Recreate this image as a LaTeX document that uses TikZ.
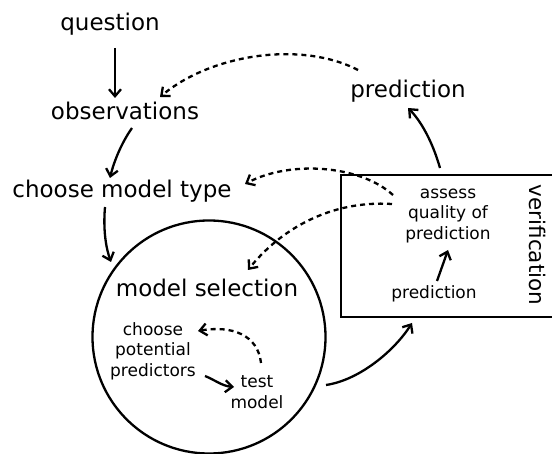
\documentclass[tikz,border=0pt]{standalone}
\usepackage{fontspec}
\setmainfont{DejaVu Sans}
\usetikzlibrary{arrows.meta}
\tikzset{
  big/.style={font=\fontsize{23}{26}\selectfont, inner sep=1pt},
  small/.style={font=\fontsize{17}{20.5}\selectfont, align=center, inner sep=1pt},
  conn/.style={line width=2.3pt, -{Straight Barb[length=7pt,width=12pt,line width=2.3pt]}},
  dconn/.style={conn, dash pattern=on 5pt off 4pt},
  frame/.style={draw, line width=2.3pt}
}
\begin{document}
\begin{tikzpicture}[x=1pt,y=-1pt]
\useasboundingbox (0,0) rectangle (552,454);
% shapes
\node[frame, circle, minimum size=233pt, inner sep=0pt] (circ) at (209,337) {};
\draw[line width=2.3pt] (341,175) -- (560,175) -- (560,317) -- (341,317) -- cycle;
% texts
\node[big] (question) at (110,24) {question};
\node[big] (obs) at (125,111) {observations};
\node[big] (cmt) at (122,191) {choose model type};
\node[big] (pred) at (408,91) {prediction};
\node[big] (ms) at (207,288) {model selection};
\node[small] (assess) at (448,216) {assess\\quality of\\prediction};
\node[small] (pred2) at (434,294) {prediction};
\node[font=\fontsize{21.5}{24}\selectfont, inner sep=1pt, rotate=-90] (verif) at (538,245) {verification};
\node[small] (cpp) at (153,351) {choose\\potential\\predictors};
\node[small] (tm) at (257,392) {test\\model};
% anchor points
\coordinate (q1) at (115,48);
\coordinate (o0) at (115,98);
\coordinate (o1) at (132,128);
\coordinate (c0) at (110,178);
\coordinate (c1) at (105,207);
\coordinate (m0) at (111,262);
\coordinate (boxtop) at (440,168);
\coordinate (p0) at (408,108);
\coordinate (circr) at (326,385);
\coordinate (boxbl) at (412,323);
\coordinate (pp1) at (205,376);
\coordinate (tm0) at (234,387);
\coordinate (tm1) at (261,363);
\coordinate (cp0) at (198,331);
\coordinate (p1) at (358,70);
\coordinate (o2) at (160,97);
\coordinate (a1) at (393,195);
\coordinate (c2) at (245,184);
\coordinate (a2) at (392,204);
\coordinate (ms0) at (248,270);
\coordinate (pr1) at (437,281);
\coordinate (as0) at (448,250);
% connectors
\draw[conn] (q1) -- (o0);
\draw[conn] (o1) .. controls (120,145) and (113,165) .. (c0);
\draw[conn] (c1) .. controls (103,230) and (106,248) .. (m0);
\draw[conn] (pr1) -- (as0);
\draw[conn] (boxtop) .. controls (432,140) and (420,120) .. (p0);
\draw[conn] (circr) .. controls (360,380) and (395,350) .. (boxbl);
\draw[conn] (pp1) .. controls (215,380) and (222,386) .. (tm0);
\draw[dconn] (tm1) .. controls (258,335) and (232,325) .. (cp0);
\draw[dconn] (p1) .. controls (300,40) and (210,55) .. (o2);
\draw[dconn] (a1) .. controls (360,165) and (290,160) .. (c2);
\draw[dconn] (a2) .. controls (330,200) and (280,230) .. (ms0);
\end{tikzpicture}
\end{document}
